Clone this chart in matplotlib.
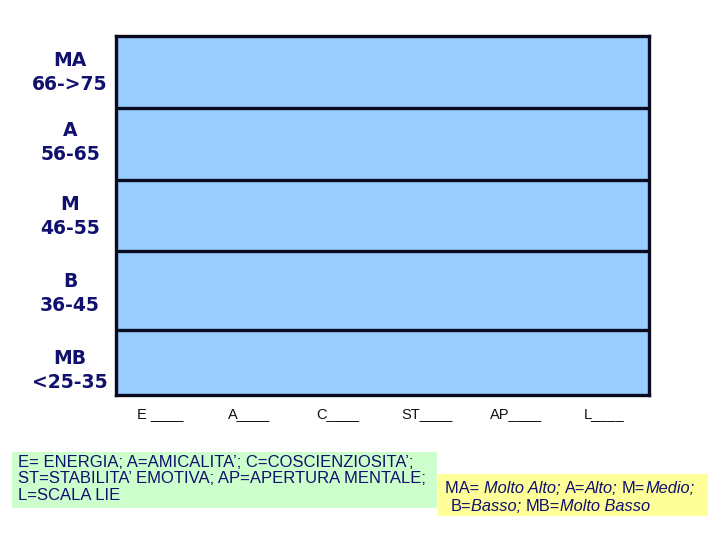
import matplotlib.pyplot as plt
from matplotlib.patches import Rectangle

# score bands, bottom to top
bands = ['MB\n<25-35', 'B\n36-45', 'M\n46-55', 'A\n56-65', 'MA\n66->75']
band_edges = [0, 18, 40, 60, 80, 100]
label_pos = [8, 29.5, 51, 71.5, 91]
scales = ['E ____', 'A____', 'C____', 'ST____', 'AP____', 'L____']

legend_scales = ("E= ENERGIA; A=AMICALITA\u2019; C=COSCIENZIOSITA\u2019;\n"
                 "ST=STABILITA\u2019 EMOTIVA; AP=APERTURA MENTALE;\n"
                 "L=SCALA LIE")
legend_levels = [
    [('MA= ', 'normal'), ('Molto Alto; ', 'italic'), ('A=', 'normal'),
     ('Alto; ', 'italic'), ('M=', 'normal'), ('Medio;', 'italic')],
    [('B=', 'normal'), ('Basso; ', 'italic'), ('MB=', 'normal'),
     ('Molto Basso', 'italic')],
]

navy = '#10106e'
dark = '#0a0a20'

fig = plt.figure(figsize=(7.2, 5.4), dpi=100)
ax = fig.add_axes([0.161, 0.2685, 0.740, 0.6645])
ax.set_facecolor('#99ccff')
ax.set_xlim(0, len(scales))
ax.set_ylim(band_edges[0], band_edges[-1])

for y in band_edges[1:-1]:
    ax.axhline(y, color=dark, lw=2.4)
for s in ax.spines.values():
    s.set_color(dark)
    s.set_linewidth(2.4)

ax.set_yticks(label_pos)
ax.set_yticklabels(bands, fontsize=13.5, fontweight='bold', color=navy,
                   family='DejaVu Sans', linespacing=1.3)
for t in ax.get_yticklabels():
    t.set_ha('center')
    t.set_multialignment('center')
ax.tick_params(axis='y', length=0, pad=33)

ax.set_xticks([i + 0.5 for i in range(len(scales))])
ax.set_xticklabels(scales, fontsize=10.5, color='#101010',
                   family='Liberation Sans')
ax.tick_params(axis='x', length=0, pad=8.5)

# green box with scale names
fig.patches.append(Rectangle((0.0167, 0.059), 0.590, 0.104,
                             transform=fig.transFigure,
                             fc='#ccffcc', ec='none', zorder=0))
fig.text(0.025, 0.158, legend_scales, fontsize=12, color=navy,
         family='Liberation Sans', linespacing=1.15, va='top')

# yellow box with mixed regular/italic pieces
fig.patches.append(Rectangle((0.608, 0.044), 0.375, 0.078,
                             transform=fig.transFigure,
                             fc='#ffff99', ec='none', zorder=0))
row_start = [0.618, 0.626]
row_y = [0.087, 0.054]
fig.canvas.draw()
r = fig.canvas.get_renderer()
for x0, y, row in zip(row_start, row_y, legend_levels):
    x = x0 * fig.bbox.width
    for txt, style in row:
        t = fig.text(x / fig.bbox.width, y, txt, fontsize=11.8, color=navy,
                     family='Liberation Sans', style=style,
                     ha='left', va='baseline')
        x += t.get_window_extent(r).width

fig.savefig('out.png', dpi=100)
